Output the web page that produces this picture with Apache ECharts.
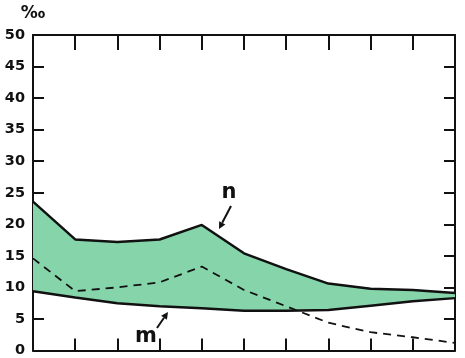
<!DOCTYPE html>
<html>
<head>
<meta charset="utf-8">
<script src="https://cdn.jsdelivr.net/npm/echarts@6/dist/echarts.min.js"></script>
<style>html,body{margin:0;padding:0;background:#fff}#c{width:465px;height:358px}</style>
</head>
<body>
<div id="c"></div>
<script>
const categories = ['1','2','3','4','5','6','7','8','9','10','11'];
const upperN = [23.6, 17.6, 17.2, 17.6, 19.9, 15.4, 12.9, 10.6, 9.8, 9.6, 9.1];
const lowerM = [9.4, 8.4, 7.5, 7.0, 6.7, 6.3, 6.3, 6.4, 7.1, 7.8, 8.3];
const dashed = [14.6, 9.4, 10.0, 10.8, 13.3, 9.6, 7.0, 4.4, 2.9, 2.1, 1.2];
const yTicks = [0,5,10,15,20,25,30,35,40,45,50];

const band = upperN.map((v,i)=> +(v - lowerM[i]).toFixed(2));
const chart = echarts.init(document.getElementById('c'), null, {renderer:'canvas'});
const axisLine = {show:true, onZero:false, lineStyle:{color:'#111', width:2}};
const font = 'DejaVu Sans';

function arrow(x1,y1,x2,y2){
  const a = Math.atan2(y2-y1, x2-x1), L=7, W=3.5;
  const bx = x2 - L*Math.cos(a), by = y2 - L*Math.sin(a);
  const px = -Math.sin(a)*W, py = Math.cos(a)*W;
  return [
    {type:'line', shape:{x1:x1,y1:y1,x2:bx,y2:by}, style:{stroke:'#111', lineWidth:2}, z:10},
    {type:'polygon', shape:{points:[[x2,y2],[bx+px,by+py],[bx-px,by-py]]}, style:{fill:'#111'}, z:10}
  ];
}

chart.setOption({
  animation:false,
  backgroundColor:'#fff',
  grid:{left:33, right:10, top:35, bottom:7, containLabel:false},
  xAxis:[
    {type:'category', data:categories, boundaryGap:false, position:'bottom',
     axisLine:axisLine, axisTick:{show:true, inside:true, length:12, lineStyle:{color:'#111', width:2}},
     axisLabel:{show:false}, splitLine:{show:false}},
    {type:'category', data:categories, boundaryGap:false, position:'top',
     axisLine:axisLine, axisTick:{show:true, inside:true, length:15, lineStyle:{color:'#111', width:2}},
     axisLabel:{show:false}, splitLine:{show:false}}
  ],
  yAxis:[
    {type:'value', min:yTicks[0], max:yTicks[yTicks.length-1], interval:5, position:'left',
     axisLine:axisLine, axisTick:{show:true, inside:true, length:11, lineStyle:{color:'#111', width:2}},
     axisLabel:{show:true, margin:8, color:'#111', fontFamily:font, fontSize:14.5, fontWeight:'bold'}, splitLine:{show:false}},
    {type:'value', min:yTicks[0], max:yTicks[yTicks.length-1], interval:5, position:'right',
     axisLine:axisLine, axisTick:{show:true, inside:true, length:11, lineStyle:{color:'#111', width:2}},
     axisLabel:{show:false}, splitLine:{show:false}}
  ],
  series:[
    {name:'m', type:'line', data:lowerM, stack:'band', symbol:'none',
     lineStyle:{color:'#111', width:2.5}, z:3},
    {name:'n', type:'line', data:band, stack:'band', symbol:'none',
     lineStyle:{color:'#111', width:2.5}, areaStyle:{color:'#86d4aa', opacity:1}, z:2},
    {name:'dashed', type:'line', data:dashed, symbol:'none',
     lineStyle:{color:'#111', width:1.8, type:[8,6]}, z:4}
  ],
  graphic:[
    {type:'text', x:33, y:14, style:{text:'‰', font:'bold 17px "DejaVu Sans"', fill:'#111', align:'center', verticalAlign:'middle'}},
    {type:'text', x:229, y:193, style:{text:'n', font:'bold 21px "DejaVu Sans"', fill:'#111', align:'center', verticalAlign:'middle'}, z:10},
    {type:'text', x:146, y:337, style:{text:'m', font:'bold 21px "DejaVu Sans"', fill:'#111', align:'center', verticalAlign:'middle'}, z:10}
  ].concat(arrow(231,206,219,229)).concat(arrow(157,328,168,312))
});
</script>
</body>
</html>
